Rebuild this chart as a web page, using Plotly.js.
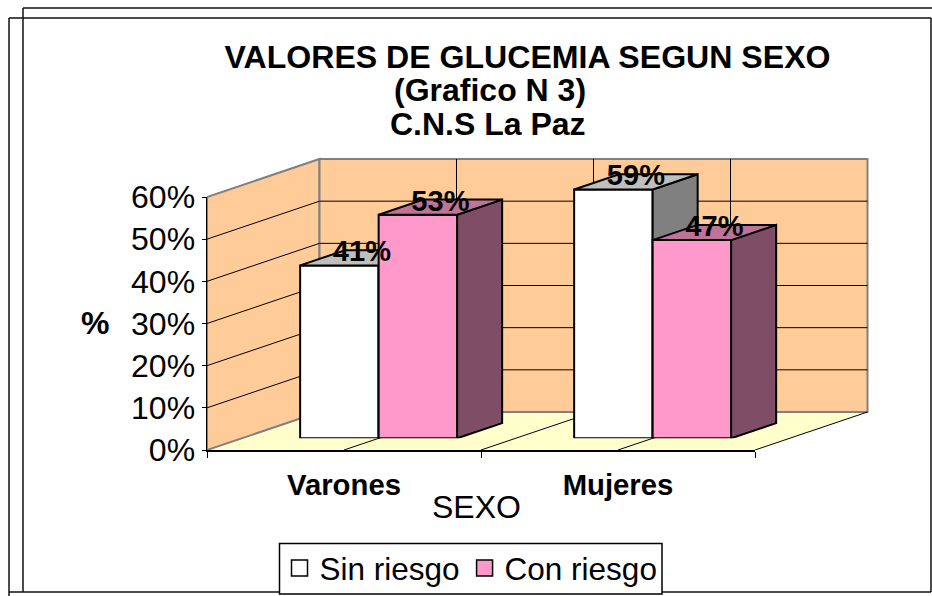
<!DOCTYPE html>
<html><head><meta charset="utf-8">
<script src="https://cdn.plot.ly/plotly-3.0.1.min.js"></script>
<style>html,body{margin:0;padding:0;background:#fff}#c{width:932px;height:596px}</style>
</head><body><div id="c"></div>
<script>
var categories = ["Varones", "Mujeres"];
var sinRiesgo = [41, 59];
var conRiesgo = [53, 47];
var seriesNames = ["Sin riesgo", "Con riesgo"];
var yTicks = [0, 10, 20, 30, 40, 50, 60];
var titleLines = ["VALORES DE GLUCEMIA SEGUN SEXO", "(Grafico N 3)", "C.N.S La Paz"];
var xAxisTitle = "SEXO";
var yAxisTitle = "%";

var W = 932, H = 596, F = "Liberation Sans, Arial, sans-serif";
var X0 = 207, X1 = 755, Y0 = 450, Y60 = 197;
var unitX = (X1 - X0) / 2, unitY = (Y0 - Y60) / 60;
// oblique depth of the whole floor, in axis units
var depthX = 112.5 / unitX, depthY = 38 / unitY;
var barFront = 0.308, barDepth = 0.4, barW = 78.5 / unitX;
var xs = categories.map(function (_, i) { return i; });
var xL = -0.5, xR = 1.5, yT = yTicks[yTicks.length - 1];
var extX = 60, extTop = 40; // extra room (px) so oblique faces stay inside their subplots

function poly(pts, fill, lineColor, lw, ax) {
  return { type: "scatter", mode: lineColor ? "lines" : "none", x: pts.map(function (p) { return p[0]; }),
    y: pts.map(function (p) { return p[1]; }), fill: "toself", fillcolor: fill,
    line: { color: lineColor || fill, width: lw || 1 }, cliponaxis: false, showlegend: false, hoverinfo: "skip",
    xaxis: ax ? "x" + ax : "x", yaxis: ax ? "y" + ax : "y" };
}
function lines(segs, color, lw) {
  var x = [], y = [];
  segs.forEach(function (s) { x.push(s[0], s[2], null); y.push(s[1], s[3], null); });
  return { type: "scatter", mode: "lines", x: x, y: y, line: { color: color, width: lw }, cliponaxis: false,
    showlegend: false, hoverinfo: "skip", connectgaps: false };
}
var data = [];
var dx = depthX, dy = depthY;
// walls and floor (subplot 1)
data.push(poly([[xL, 0], [xR, 0], [xR + dx, dy], [xL + dx, dy]], "#FFFFCC"));
data.push(poly([[xL, 0], [xL, yT], [xL + dx, yT + dy], [xL + dx, dy], [xL, 0]], "#FFCC99", "#808080", 2));
data.push(poly([[xL + dx, dy], [xL + dx, yT + dy], [xR + dx, yT + dy], [xR + dx, dy], [xL + dx, dy]], "#FFCC99", "#808080", 2));
var grid = [];
yTicks.slice(1, -1).forEach(function (v) {
  grid.push([xL, v, xL + dx, v + dy]);
  grid.push([xL + dx, v + dy, xR + dx, v + dy]);
});
[0, 0.5, 1].forEach(function (c) {
  grid.push([c + dx, dy, c + dx, yT + dy]);
  grid.push([c, 0, c + dx, dy]);
});
grid.push([xR, 0, xR + dx, dy]);
data.push(lines(grid, "#000000", 1));
// visible front-plane axes (subplot 2)
data.push({ type: "scatter", mode: "none", x: xs, y: xs.map(function () { return 0; }), showlegend: false, hoverinfo: "skip", xaxis: "x2", yaxis: "y2" });

function barSeries(name, vals, offset, color, topC, sideC, ax) {
  var ddx = barDepth * depthX, ddy = barDepth * depthY;
  xs.forEach(function (c, i) {
    var a = c + offset, b = a + barW, v = vals[i];
    data.push(poly([[b, 0], [b, v], [b + ddx, v + ddy], [b + ddx, ddy], [b, 0]], sideC, "#000000", 2, ax));
    data.push(poly([[a, v], [b, v], [b + ddx, v + ddy], [a + ddx, v + ddy], [a, v]], topC, "#000000", 2, ax));
  });
  data.push({ type: "bar", name: name, x: xs, y: vals, width: barW, offset: offset,
    marker: { color: color, line: { color: "#000000", width: 2 } }, showlegend: false, hoverinfo: "skip",
    xaxis: "x" + ax, yaxis: "y" + ax });
}
barSeries(seriesNames[0], sinRiesgo, -barW, "#FFFFFF", "#BFBFBF", "#808080", 3);
barSeries(seriesNames[1], conRiesgo, 0, "#FF99CC", "#BF7399", "#7F4D66", 4);

// data labels
function labels(vals, offset) {
  return { type: "scatter", mode: "text", x: xs.map(function (c) { return c + offset + barW / 2 + barDepth * depthX / 2; }),
    y: vals.map(function (v) { return v + 11.5 / unitY; }), text: vals.map(function (v) { return v + "%"; }),
    textposition: "middle center", textfont: { family: F, size: 29, weight: 700, color: "#000" },
    cliponaxis: false, showlegend: false, hoverinfo: "skip", xaxis: "x4", yaxis: "y4" };
}
data.push(labels(sinRiesgo, -barW));
data.push(labels(conRiesgo, 0));

// legend entries
[["#FFFFFF", seriesNames[0]], ["#FF99CC", seriesNames[1]]].forEach(function (e) {
  data.push({ type: "scatter", mode: "markers", name: e[1], x: [null], y: [null],
    marker: { symbol: "square", size: 16, color: e[0], line: { color: "#000", width: 1.5 } }, xaxis: "x4", yaxis: "y4" });
});

function px(x) { return x / W; }
function py(y) { return 1 - y / H; }
var sx = barFront * 112.5, sy = barFront * 38;
// extended axis: keeps one unit = unitX / unitY while reaching further right/up
function extAxes(x0, y0) {
  var right = X1 + 112.5 + extX, top = Y60 - 38.5 - extTop;
  return {
    x: { visible: false, fixedrange: true, domain: [px(x0), px(right)], range: [xL, xL + (right - x0) / unitX] },
    y: { visible: false, fixedrange: true, domain: [py(y0), py(top)], range: [0, (y0 - top) / unitY] }
  };
}
var wall = extAxes(X0, Y0), bars = extAxes(X0 + sx, Y0 - sy);
function frame(x0, y0, x1, y1) {
  return { type: "line", xref: "paper", yref: "paper", x0: px(x0), y0: py(y0), x1: px(x1), y1: py(y1),
    line: { color: "#111", width: 1.5 }, layer: "below" };
}
function note(text, x, y, size, weight) {
  return { text: text, x: px(x), y: py(y), xref: "paper", yref: "paper", xanchor: "center", yanchor: "middle",
    showarrow: false, font: { family: F, size: size, weight: weight || 400 } };
}
var layout = {
  width: W, height: H, margin: { l: 0, r: 0, t: 0, b: 0, autoexpand: false },
  paper_bgcolor: "#fff", plot_bgcolor: "rgba(0,0,0,0)", showlegend: true, barmode: "overlay",
  font: { family: F, color: "#000" },
  title: { text: titleLines[0], font: { family: F, size: 32.1, weight: 700 }, xref: "paper", yref: "paper",
    x: px(527.5), xanchor: "center", y: py(57), yanchor: "middle" },
  annotations: [
    note(titleLines[1], 489.5, 90, 32, 700),
    note(titleLines[2], 487.5, 124, 32, 700),
    note(xAxisTitle, 476, 507, 32),
    note(yAxisTitle, 95, 323, 32, 700)
  ],
  xaxis: wall.x, yaxis: Object.assign(wall.y, { anchor: "x" }),
  xaxis2: { domain: [px(X0), px(X1)], range: [xL, xR], fixedrange: true, showgrid: false, zeroline: false,
    showline: true, linecolor: "#000", linewidth: 1.5, anchor: "y2",
    tickmode: "array", tickvals: xs, ticktext: categories, ticks: "", ticklabelstandoff: 8,
    tickfont: { family: F, size: 29.3, weight: 700 },
    minor: { tickmode: "array", tickvals: [-0.5, 0.5, 1.5], ticks: "outside", ticklen: 6, tickcolor: "#000", tickwidth: 1, showgrid: false } },
  yaxis2: { domain: [py(Y0), py(Y60)], range: [0, yT], fixedrange: true, showgrid: false, zeroline: false,
    showline: true, linecolor: "#000", linewidth: 1.5, anchor: "x2",
    tickmode: "array", tickvals: yTicks, ticktext: yTicks.map(function (v) { return v + "%"; }),
    ticks: "outside", ticklen: 4, tickcolor: "#000", ticklabelstandoff: 0, tickfont: { family: F, size: 32 } },
  xaxis3: Object.assign(bars.x, { anchor: "y3" }),
  yaxis3: Object.assign(bars.y, { anchor: "x3" }),
  xaxis4: { visible: false, fixedrange: true, range: bars.x.range, overlaying: "x3", anchor: "y4" },
  yaxis4: { visible: false, fixedrange: true, range: bars.y.range, overlaying: "y3", anchor: "x4" },
  legend: { orientation: "h", x: px(279.5), y: py(541), xanchor: "left", yanchor: "top", bgcolor: "rgba(0,0,0,0)",
    borderwidth: 0, font: { family: F, size: 31.5 }, itemsizing: "trace", itemclick: false, itemdoubleclick: false },
  shapes: [
    frame(23, 8, 932, 8), frame(23, 8, 23, 592), frame(9, 18, 931, 18), frame(9, 18, 9, 596),
    frame(931, 18, 931, 592), frame(9, 592, 931, 592),
    { type: "rect", xref: "paper", yref: "paper", x0: px(279.5), x1: px(662), y0: py(543.5), y1: py(594),
      fillcolor: "#fff", line: { color: "#000", width: 1.5 }, layer: "above" }
  ]
};
Plotly.newPlot("c", data, layout, { displayModeBar: false, staticPlot: true });
</script></body></html>
